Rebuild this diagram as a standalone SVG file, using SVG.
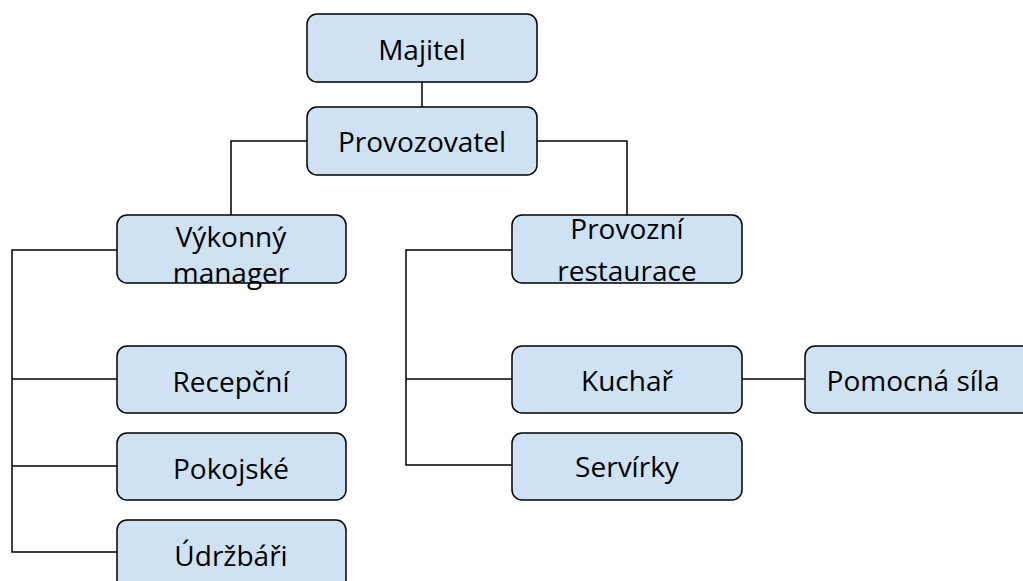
<svg xmlns="http://www.w3.org/2000/svg" width="1023" height="581" viewBox="0 0 1023 581">
<style>
.box{fill:#cfe2f3;stroke:#000;stroke-width:1.5}
.t{font-family:"Open Sans","Liberation Sans",sans-serif;font-size:28px;fill:#000;text-anchor:middle}
.c{fill:none;stroke:#000;stroke-width:1.5}
</style>
<rect width="1023" height="581" fill="#fff"/>
<g id="connectors">
<path class="c" d="M422 82V107"/>
<path class="c" d="M307 141H231V215"/>
<path class="c" d="M537 141H627V215"/>
<path class="c" d="M117 250H12V552H117"/>
<path class="c" d="M12 379H117"/>
<path class="c" d="M12 466H117"/>
<path class="c" d="M512 250H406V465H512"/>
<path class="c" d="M406 379H512" stroke-width="2.5"/>
<path class="c" d="M742 379H805"/>
</g>
<g id="majitel"><rect class="box" x="307" y="14" width="230" height="68" rx="10"/><text class="t" x="422" y="60">Majitel</text></g>
<g id="provozovatel"><rect class="box" x="307" y="107" width="230" height="68" rx="10"/><text class="t" x="422" y="152">Provozovatel</text></g>
<g id="vykonny"><rect class="box" x="117" y="215" width="229" height="68" rx="10"/><text class="t" x="231" y="247">Výkonný</text><text class="t" x="231" y="283">manager</text></g>
<g id="provozni"><rect class="box" x="512" y="215" width="230" height="68" rx="10"/><text class="t" x="627" y="239">Provozní</text><text class="t" x="627" y="281">restaurace</text></g>
<g id="recepcni"><rect class="box" x="117" y="346" width="229" height="67" rx="10"/><text class="t" x="231" y="392">Recepční</text></g>
<g id="pokojske"><rect class="box" x="117" y="433" width="229" height="67" rx="10"/><text class="t" x="231" y="479">Pokojské</text></g>
<g id="udrzbari"><rect class="box" x="117" y="520" width="229" height="70" rx="10"/><text class="t" x="231" y="566">Údržbáři</text></g>
<g id="kuchar"><rect class="box" x="512" y="346" width="230" height="67" rx="10"/><text class="t" x="627" y="391">Kuchař</text></g>
<g id="servirky"><rect class="box" x="512" y="433" width="230" height="67" rx="10"/><text class="t" x="627" y="477">Servírky</text></g>
<g id="pomocna"><rect class="box" x="805" y="346" width="230" height="67" rx="10"/><text class="t" x="913" y="391">Pomocná síla</text></g>
</svg>
